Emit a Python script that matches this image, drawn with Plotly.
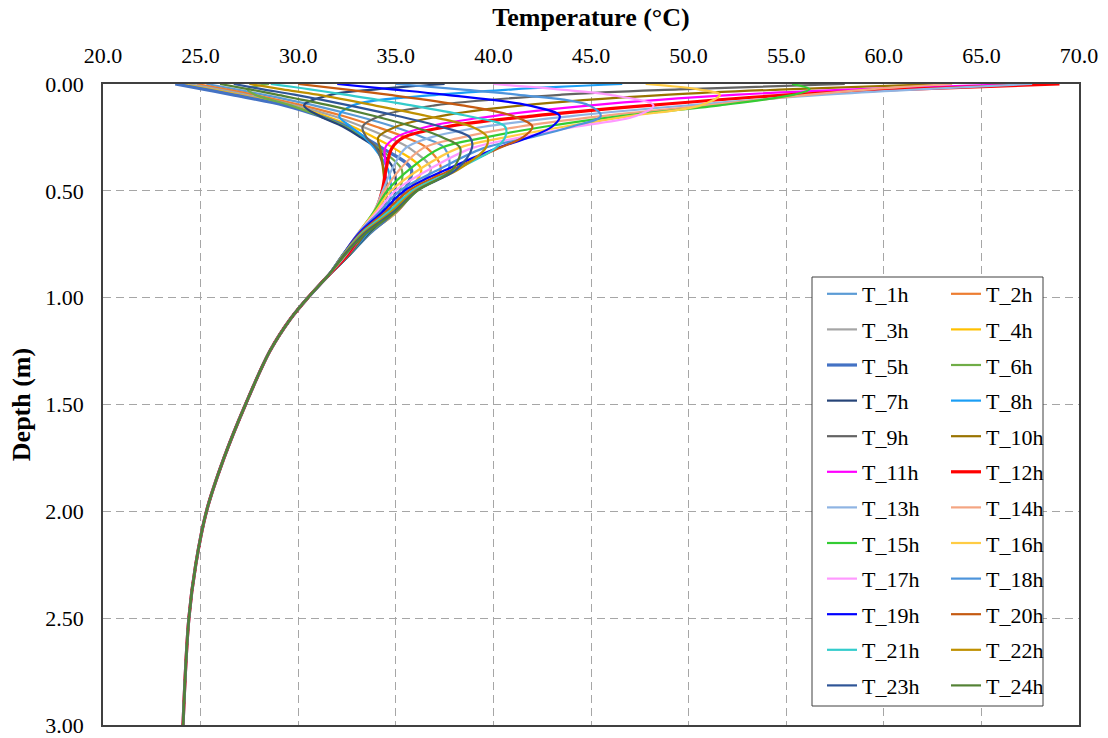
import plotly.graph_objects as go

# depth points (m) for the hour-specific upper part of each profile
depth_shallow = [0, 0.025, 0.05, 0.1, 0.15, 0.2, 0.25, 0.3, 0.4, 0.5, 0.6, 0.7, 0.8]
# deep part shared by all profiles
depth_deep = [0.9, 1.0, 1.1, 1.25, 1.5, 1.75, 2.0, 2.25, 2.5, 3.0]
temp_deep = [31.5, 30.5, 29.6, 28.55, 27.3, 26.2, 25.3, 24.75, 24.4, 24.1]

t1h = [25.3, 26.8, 28.2, 30.8, 33.0, 34.9, 36.4, 37.5, 37.7, 36.07, 35.03, 33.53, 32.45]
t2h = [24.8, 26.3, 27.7, 30.2, 32.3, 34.0, 35.5, 36.6, 37.3, 35.98, 35.05, 33.59, 32.50]
t3h = [24.4, 25.9, 27.3, 29.8, 31.8, 33.3, 34.6, 35.7, 36.8, 35.84, 35.03, 33.63, 32.54]
t4h = [24.0, 25.5, 26.9, 29.5, 31.4, 32.8, 33.9, 34.9, 36.3, 35.65, 34.97, 33.65, 32.58]
t5h = [23.7, 25.2, 26.6, 29.3, 31.1, 32.5, 33.4, 34.3, 35.8, 35.43, 34.87, 33.65, 32.61]
t6h = [28.5, 27.4, 27.8, 29.6, 31.1, 32.4, 33.3, 34.1, 35.3, 35.20, 34.75, 33.63, 32.62]
t7h = [37.5, 34.0, 31.7, 30.3, 31.1, 32.3, 33.2, 34.0, 34.9, 34.97, 34.60, 33.59, 32.63]
t8h = [46.6, 41.0, 37.2, 32.8, 32.1, 32.7, 33.4, 33.9, 34.6, 34.75, 34.45, 33.53, 32.62]
t9h = [58.0, 49.5, 43.5, 37.0, 34.2, 33.3, 33.5, 34.0, 34.4, 34.56, 34.30, 33.46, 32.61]
t10h = [62.9, 55.0, 49.0, 41.5, 37.3, 35.0, 34.1, 34.2, 34.35, 34.42, 34.15, 33.39, 32.58]
t11h = [67.0, 58.5, 52.5, 45.0, 40.0, 36.6, 35.0, 34.45, 34.5, 34.33, 34.03, 33.31, 32.54]
t12h = [69.0, 61.0, 55.3, 48.0, 42.0, 37.6, 35.4, 34.8, 34.5, 34.30, 33.93, 33.24, 32.50]
t13h = [67.6, 61.8, 57.0, 50.0, 44.0, 39.5, 36.8, 35.5, 34.8, 34.33, 33.87, 33.17, 32.45]
t14h = [63.5, 59.3, 56.2, 51.0, 45.6, 41.3, 38.4, 36.4, 35.2, 34.42, 33.85, 33.11, 32.40]
t15h = [55.3, 56.2, 55.4, 51.6, 46.5, 42.6, 39.6, 37.3, 35.7, 34.56, 33.87, 33.07, 32.36]
t16h = [47.8, 50.5, 51.6, 50.6, 47.0, 43.6, 40.6, 38.2, 36.2, 34.75, 33.93, 33.05, 32.32]
t17h = [40.0, 43.3, 45.9, 48.2, 47.3, 44.2, 41.4, 38.9, 36.7, 34.97, 34.03, 33.05, 32.29]
t18h = [35.0, 38.3, 41.2, 44.9, 45.5, 44.0, 41.9, 39.5, 37.2, 35.20, 34.15, 33.07, 32.28]
t19h = [32.0, 34.8, 37.5, 41.8, 43.4, 43.0, 41.8, 40.2, 37.6, 35.43, 34.30, 33.11, 32.27]
t20h = [30.0, 32.4, 34.6, 38.4, 41.0, 42.0, 41.5, 40.3, 37.9, 35.65, 34.45, 33.17, 32.28]
t21h = [28.6, 30.6, 32.4, 35.8, 38.7, 40.6, 40.6, 40.1, 38.1, 35.84, 34.60, 33.24, 32.29]
t22h = [27.5, 29.2, 31.0, 33.9, 36.6, 38.9, 39.7, 39.6, 38.2, 35.98, 34.75, 33.31, 32.32]
t23h = [26.7, 28.2, 29.8, 32.6, 35.1, 37.3, 38.8, 38.9, 38.1, 36.07, 34.87, 33.39, 32.36]
t24h = [26.0, 27.5, 28.9, 31.6, 33.9, 35.9, 37.4, 38.3, 37.9, 36.10, 34.97, 33.46, 32.40]

names = ["T_%dh" % h for h in range(1, 25)]
series = [t1h, t2h, t3h, t4h, t5h, t6h, t7h, t8h, t9h, t10h, t11h, t12h,
          t13h, t14h, t15h, t16h, t17h, t18h, t19h, t20h, t21h, t22h, t23h, t24h]
colors = ["#5B9BD5", "#ED7D31", "#A5A5A5", "#FFC000", "#4472C4", "#70AD47",
          "#264478", "#1A9EF5", "#636363", "#997300", "#FF00FF", "#FF0000",
          "#8FB4E3", "#F4A582", "#33CC33", "#FFCC44", "#FF99FF", "#4D94DB",
          "#0000FF", "#C55A11", "#33CCCC", "#BF9000", "#2F5597", "#548235"]
widths = [2.2] * 24
widths[4] = 3.2
widths[11] = 3.2

FONT = "Liberation Serif"
fig = go.Figure()
for i, (name, vals) in enumerate(zip(names, series)):
    fig.add_trace(go.Scatter(
        x=vals + temp_deep, y=depth_shallow + depth_deep,
        mode="lines", name=name,
        line=dict(color=colors[i], width=widths[i], shape="spline", smoothing=1.0),
        legendgroup=name,
        legend="legend" if i % 2 == 0 else "legend2",
        showlegend=True,
    ))

L, R, T, B = 103, 29, 84, 13
W, H = 1108, 738
pw, ph = W - L - R, H - T - B

def px_x(px):
    return (px - L) / pw

def px_y(py):
    return 1 - (py - T) / ph

legend_common = dict(
    font=dict(family=FONT, size=22, color="black"),
    bgcolor="rgba(0,0,0,0)", borderwidth=0,
    yanchor="top", xanchor="left", tracegroupgap=4,
)

grid = dict(showgrid=True, gridcolor="#A6A6A6", griddash="8px,5px", gridwidth=1,
            showline=True, linecolor="#404040", linewidth=1.5, mirror=True,
            ticks="", zeroline=False, automargin=False, ticklabeloverflow="allow")

fig.update_layout(
    width=W, height=H,
    margin=dict(l=L, r=R, t=T, b=B),
    plot_bgcolor="white", paper_bgcolor="white",
    font=dict(family=FONT, size=22, color="black"),
    xaxis=dict(
        side="top", range=[20, 70], dtick=5, tickformat=".1f",
        ticklabelstandoff=10, tickfont=dict(family=FONT, size=22),
        title=dict(text="<b>Temperature (°C)</b>", font=dict(family=FONT, size=26), standoff=9),
        **grid,
    ),
    yaxis=dict(
        range=[3, 0], dtick=0.5, tickformat=".2f",
        ticklabelstandoff=13, tickfont=dict(family=FONT, size=22),
        title=dict(text="<b>Depth (m)</b>", font=dict(family=FONT, size=26), standoff=7),
        **grid,
    ),
    legend=dict(x=px_x(822), y=px_y(273), **legend_common),
    legend2=dict(x=px_x(946), y=px_y(273), **legend_common),
    shapes=[dict(type="rect", xref="paper", yref="paper",
                 x0=px_x(812), x1=px_x(1043), y0=px_y(706), y1=px_y(277),
                 line=dict(color="#404040", width=1), fillcolor="white", layer="above")],
    showlegend=True,
)

fig.write_html("out.html")
